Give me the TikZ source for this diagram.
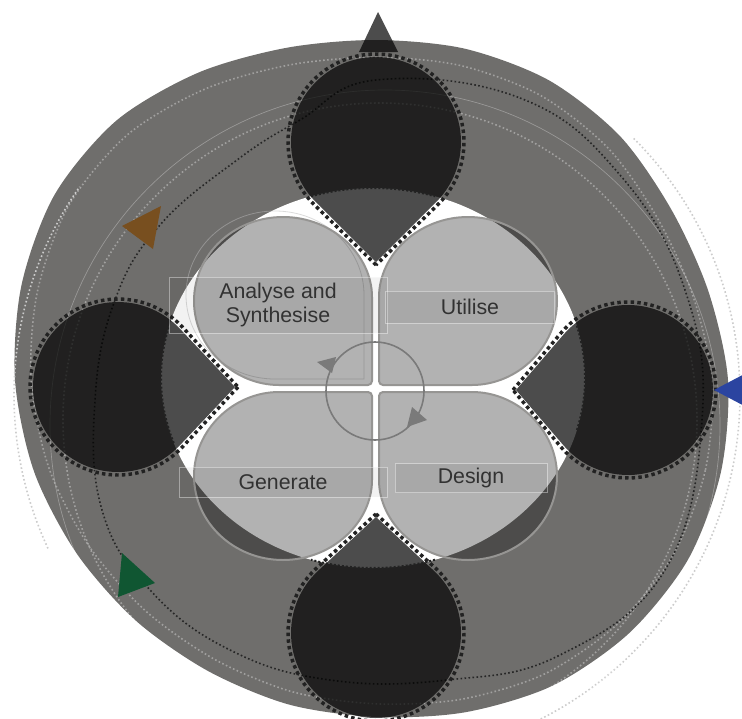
\documentclass[tikz,border=0pt]{standalone}
\usepackage{fontspec}
\setmainfont{Liberation Sans}
\usepackage{tikz}
\usetikzlibrary{calc}

\definecolor{blobgrey}{RGB}{111,110,108}
\definecolor{pinline}{RGB}{34,34,34}
\definecolor{textgrey}{RGB}{50,50,50}
\definecolor{petalline}{RGB}{150,149,147}
\definecolor{wheelgrey}{RGB}{122,122,122}
\definecolor{markbrown}{RGB}{120,79,31}
\definecolor{markblue}{RGB}{43,68,160}
\definecolor{markgreen}{RGB}{16,86,50}

% outline of the grey body, polar around (376,380)
\newcommand{\blobpoints}{(0:352) (15:357) (30:360) (45:358) (60:353) (75:344) (90:337)
  (105:336) (120:336) (135:340) (150:346) (165:354) (180:361) (195:367) (210:371)
  (225:367) (240:355) (255:344) (270:340) (285:343) (300:346) (315:345) (330:341) (345:344)}

\newcommand{\pin}[4]{%
  % #1 = centre x, #2 = centre y, #3 = direction of the tip, #4 = distance of the tip
  \pgfmathsetmacro{\pinang}{acos(85/#4)}
  \fill[pinfill] ($(#1,#2)+(#3:#4)$) -- ($(#1,#2)+({#3+\pinang}:85)$)
    arc[start angle={#3+\pinang}, delta angle={360-2*\pinang}, radius=85] -- cycle;
  \pgfmathsetmacro{\pinang}{acos(88/(#4+3))}
  \draw[pinedge] ($(#1,#2)+(#3:#4+3)$) -- ($(#1,#2)+({#3+\pinang}:88)$)
    arc[start angle={#3+\pinang}, delta angle={360-2*\pinang}, radius=88] -- cycle;
}
\newcommand{\petal}[4]{%
  % #1,#2 = inner corner, #3,#4 = side of the corner (1 or -1)
  \begin{scope}[shift={(#1,#2)}, xscale=#3, yscale=#4]
    \filldraw[petalfill] (0,0) -- (89,0)
      arc[start angle=270, delta angle=270, x radius=89, y radius=84] -- cycle;
  \end{scope}
}

\begin{document}
\begin{tikzpicture}[x=0.75pt, y=-0.75pt,
    pinfill/.style={fill=black, fill opacity=0.7},
    pinedge/.style={draw=pinline, line width=2.6pt, dash pattern=on 2.6pt off 2.4pt},
    petalfill/.style={fill=black, fill opacity=0.3, draw=petalline, line width=1.5pt, rounded corners=3pt},
    labelbox/.style={draw=white, draw opacity=0.4, line width=0.5pt, fill=black, fill opacity=0.05,
      text opacity=1, text=textgrey, inner sep=0pt, align=center, font=\fontsize{16}{18}\selectfont},
    dotring/.style={line width=1.2pt, dash pattern=on 1.2pt off 1.8pt},
    seam/.style={pinline, line width=1.5pt, dash pattern=on 1.5pt off 1.5pt}]
  \useasboundingbox (0,0) rectangle (742,718);

  % grey body
  \begin{scope}[shift={(376,380)}]
    \fill[blobgrey] plot[smooth cycle] coordinates {\blobpoints};
  \end{scope}

  % rings
  \draw[dotring, gray!40] (377,395) ++(-45:363) arc[start angle=-45, end angle=105, radius=363];
  \draw[dotring, gray!40] (377,395) ++(155:363) arc[start angle=155, end angle=215, radius=363];
  \begin{scope}[shift={(376,382)}, scale=0.955]
    \draw[dotring, white, opacity=0.35] plot[smooth cycle] coordinates {\blobpoints};
  \end{scope}
  \draw[dotring, white, opacity=0.35] (380,420) circle[radius=317];
  \draw[white, opacity=0.3, line width=0.5pt] (385,425) circle[radius=335];

  % white middle
  \fill[white] (373,378) ellipse[x radius=212, y radius=190];

  \draw[dotring, black!85] plot[smooth cycle, tension=0.7] coordinates {
    (376,80) (520,98) (620,175) (685,290) (702,420) (665,570) (560,655) (447,680)
    (330,680) (230,650) (150,590) (102,510) (95,400) (115,300) (160,225) (237,160) (300,120)};

  % petals
  \draw[gray!55, opacity=0.5, line width=0.6pt] (364,379) -- (364,295)
    arc[start angle=0, delta angle=-270, x radius=89, y radius=84] -- cycle;
  \petal{372}{385}{-1}{-1}
  \petal{379}{385}{1}{-1}
  \petal{372}{392}{-1}{1}
  \petal{379}{392}{1}{1}

  % pins
  \pin{376}{142}{90}{120}
  \pin{376}{633}{270}{116}
  \pin{118}{387}{0}{117}
  \pin{628}{390}{180}{112}
  \draw[seam] (373,378) ++(253:212 and 190) arc[start angle=253, end angle=287, x radius=212, y radius=190];
  \draw[seam] (373,378) ++(73:212 and 190) arc[start angle=73, end angle=107, x radius=212, y radius=190];
  \draw[seam] (373,378) ++(160:212 and 190) arc[start angle=160, end angle=196, x radius=212, y radius=190];
  \draw[seam] (373,378) ++(-16:212 and 190) arc[start angle=-16, end angle=16, x radius=212, y radius=190];

  % labels
  \node[labelbox, minimum width=218*0.75pt, minimum height=56*0.75pt] (analyse) at (278,305) {Analyse and\\Synthesise};
  \node[labelbox, minimum width=169*0.75pt, minimum height=32*0.75pt] (utilise) at (470,307) {Utilise};
  \node[labelbox, minimum width=208*0.75pt, minimum height=30*0.75pt] (generate) at (283,482) {Generate};
  \node[labelbox, minimum width=152*0.75pt, minimum height=29*0.75pt] (design) at (471,478) {Design};

  % centre wheel
  \draw[wheelgrey, line width=1.2pt] (375,391) circle[radius=49];
  \fill[wheelgrey] (317,362) -- (336,357) -- (332,373) -- cycle;
  \fill[wheelgrey] (412,407) -- (427,420) -- (407,427) -- cycle;

  % markers
  \fill[black, opacity=0.7] (378,12) -- (398,52) -- (359,52) -- cycle;
  \fill[markbrown] (122,226) -- (161,206) -- (153,249) -- cycle;
  \fill[markblue] (714,390) -- (752,370) -- (752,410) -- cycle;
  \fill[markgreen] (122,553) -- (155,583) -- (118,597) -- cycle;
\end{tikzpicture}
\end{document}
